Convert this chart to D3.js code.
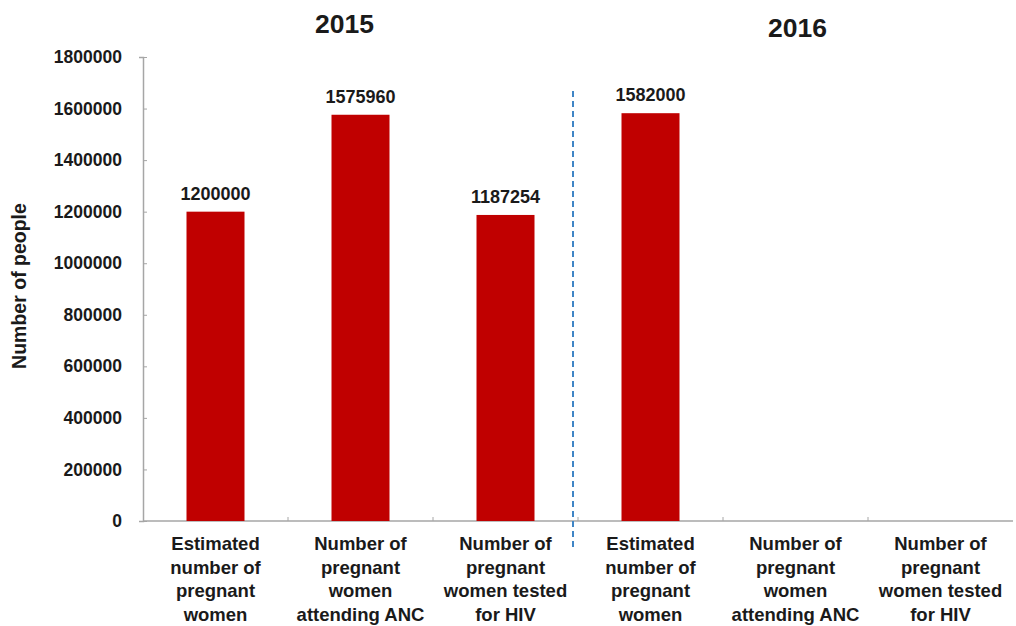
<!DOCTYPE html>
<html>
<head>
<meta charset="utf-8">
<script src="https://cdn.jsdelivr.net/npm/d3@7"></script>
<style>
  body { margin: 0; background: #fff; }
  text { font-family: "Liberation Sans", Arial, sans-serif; fill: #1a1a1a; }
</style>
</head>
<body>
<svg class="chart"></svg>
<script>
const categories = [
  'Estimated|number of|pregnant|women',
  'Number of|pregnant|women|attending ANC',
  'Number of|pregnant|women tested|for HIV'
]
const years = ['2015', '2016']
const values2015 = [1200000, 1575960, 1187254]
const values2016 = [1582000, null, null]
const yTicks = [0, 200000, 400000, 600000, 800000, 1000000, 1200000, 1400000, 1600000, 1800000]

const data = []
years.forEach((yr, i) => {
  const vals = i === 0 ? values2015 : values2016
  categories.forEach((c, j) => data.push({ key: yr + '-' + j, year: yr, label: c, value: vals[j] }))
})

const W = 1016, H = 626
const margin = { top: 57, right: 3, bottom: 105, left: 143 }
const width = W - margin.left - margin.right,
      height = H - margin.top - margin.bottom

const svg = d3.select('.chart')
  .attr('width', W)
  .attr('height', H)

const chart = svg.append('g')
  .attr('transform', `translate(${margin.left}, ${margin.top})`)

const x = d3.scaleBand()
  .domain(data.map(d => d.key))
  .range([0, width])
  .paddingInner(0.6)
  .paddingOuter(0.3)

const y = d3.scaleLinear()
  .domain([0, 1800000])
  .range([height, 0])

// y axis
const yAxis = chart.append('g')
  .call(d3.axisLeft(y).tickValues(yTicks).tickSize(4).tickPadding(17).tickFormat(d3.format('d')))
yAxis.select('.domain').attr('stroke', '#a6a6a6').attr('stroke-width', 1.5)
yAxis.selectAll('.tick line').attr('stroke', '#a6a6a6').attr('x2', 4)
yAxis.selectAll('.tick text')
  .attr('font-size', 17.5).attr('font-weight', 'bold').attr('fill', '#1a1a1a')
  .style('font-family', '"Liberation Sans", Arial, sans-serif')

// x axis line + boundary ticks
const step = x.step()
chart.append('line')
  .attr('x1', 0).attr('x2', width)
  .attr('y1', height).attr('y2', height)
  .attr('stroke', '#a6a6a6').attr('stroke-width', 1.5)

const bounds = d3.range(1, data.length).map(i => x(data[i].key) - step * x.paddingInner() / 2)
chart.selectAll('.xtick')
  .data(bounds)
  .enter()
  .append('line')
  .attr('x1', d => d).attr('x2', d => d)
  .attr('y1', height).attr('y2', height - 4)
  .attr('stroke', '#a6a6a6')

// bars
const bar = chart.selectAll('.bar')
  .data(data.filter(d => d.value != null))
  .enter()
  .append('g')
  .attr('transform', d => `translate(${x(d.key)}, 0)`)

bar.append('rect')
  .attr('y', d => y(d.value))
  .attr('height', d => height - y(d.value))
  .attr('width', x.bandwidth())
  .attr('fill', '#c00000')

bar.append('text')
  .attr('x', x.bandwidth() / 2)
  .attr('y', d => y(d.value) - 12)
  .attr('text-anchor', 'middle')
  .attr('font-size', 18)
  .attr('font-weight', 'bold')
  .text(d => d.value)

// category labels
const lab = chart.selectAll('.cat')
  .data(data)
  .enter()
  .append('text')
  .attr('text-anchor', 'middle')
  .attr('font-size', 18.5)
  .attr('font-weight', 'bold')
  .attr('transform', d => `translate(${x(d.key) + x.bandwidth() / 2}, ${height + 29})`)
lab.selectAll('tspan')
  .data(d => d.label.split('|'))
  .enter()
  .append('tspan')
  .attr('x', 0)
  .attr('y', (d, i) => i * 23.7)
  .text(d => d)

// dashed divider between years
const divX = bounds[2] - 5
chart.append('line')
  .attr('x1', divX).attr('x2', divX)
  .attr('y1', 34).attr('y2', height + 28)
  .attr('stroke', '#3f85c6')
  .attr('stroke-width', 2)
  .attr('stroke-dasharray', '6,4')

// year titles
const yearCenters = [
  (x(data[0].key) + x(data[2].key) + x.bandwidth()) / 2,
  (x(data[3].key) + x(data[5].key) + x.bandwidth()) / 2
]
chart.selectAll('.year')
  .data(years)
  .enter()
  .append('text')
  .attr('x', (d, i) => yearCenters[i] + (i === 0 ? -16 : 2))
  .attr('y', (d, i) => i === 0 ? -24 : -20)
  .attr('text-anchor', 'middle')
  .attr('font-size', 26.5)
  .attr('font-weight', 'bold')
  .text(d => d)

// y label
svg.append('text')
  .attr('transform', `translate(26, ${margin.top + height / 2 - 3}) rotate(-90)`)
  .attr('text-anchor', 'middle')
  .attr('font-size', 19.5)
  .attr('font-weight', 'bold')
  .text('Number of people')
</script>
</body>
</html>
